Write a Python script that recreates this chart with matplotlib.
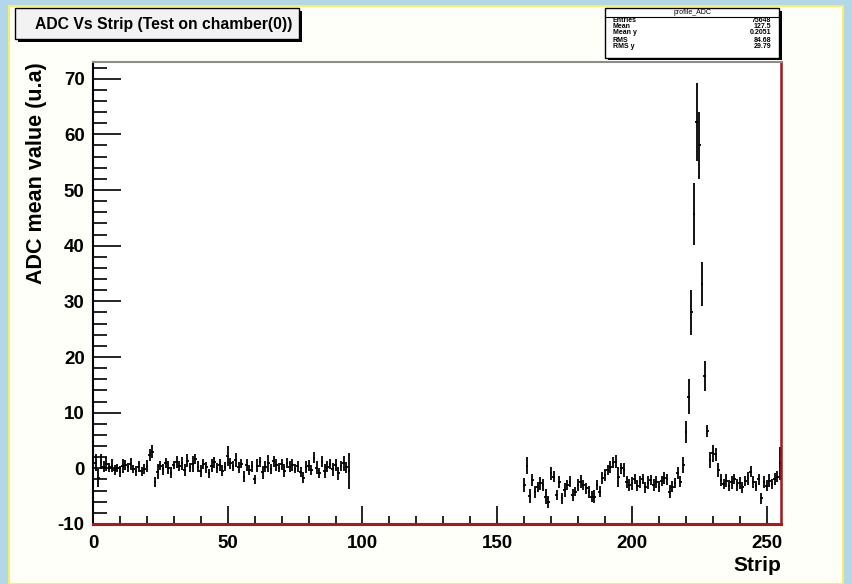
import numpy as np
import matplotlib
matplotlib.use("Agg")
import matplotlib.pyplot as plt
from matplotlib.patches import Rectangle
from matplotlib.ticker import MultipleLocator

plt.rcParams['font.family'] = ['Liberation Sans', 'DejaVu Sans']
plt.rcParams['axes.unicode_minus'] = False

# ---- data ----
left_strips = list(range(0, 96))
left_adc = [-1.5, 1.0, -1.8, 1.2, 0.3, 0.8, 0.2, 0.5, -0.3, 0.1,
            -0.6, 0.4, 0.6, 0.2, 0.8, -0.1, -0.4, 0.3, -0.5, -0.1,
            0.4, 2.4, 3.0, -2.4, -0.6, 0.5, -0.2, 0.9, 0.1, -0.8,
            0.6, 1.2, 0.4, 0.9, -0.3, 1.4, 0.2, 0.8, 1.6, 0.3,
            -0.5, 0.7, 0.2, -0.9, 0.5, 1.1, 0.0, 0.6, -0.4, 0.3,
            2.2, 0.9, 0.4, 1.5, 0.2, 0.8, -1.5, 0.6, -0.3, 0.4,
            -2.0, 0.5, 1.1, -0.7, 0.3, 0.9, -0.2, 1.3, 0.6, 0.1,
            0.7, -0.4, 0.9, 0.3, 0.6, -0.1, 0.4, -0.6, -1.7, 0.2,
            0.5, -0.3, 1.9, 0.1, -0.8, 1.2, -0.5, 0.3, 0.8, -0.2,
            0.6, -0.9, 0.4, 0.9, 0.2, -0.5]
left_err = [2.4, 1.5, 1.6, 1.3, 1.0, 1.2, 0.8, 1.1, 0.9, 0.7,
            1.0, 1.2, 0.9, 0.8, 1.1, 0.7, 0.9, 1.0, 0.8, 0.9,
            1.1, 1.0, 1.2, 0.9, 1.3, 0.8, 1.0, 0.9, 1.2, 1.0,
            0.8, 1.1, 0.9, 1.2, 1.0, 1.1, 0.8, 1.4, 0.9, 1.0,
            1.1, 0.9, 1.0, 0.8, 1.2, 1.0, 0.9, 1.1, 1.0, 0.8,
            1.8, 1.0, 0.9, 1.2, 1.0, 0.8, 1.0, 1.1, 0.9, 1.0,
            0.8, 1.1, 0.9, 1.2, 1.0, 1.5, 0.9, 1.0, 1.1, 0.8,
            1.0, 1.2, 0.9, 1.0, 1.1, 0.8, 1.0, 0.9, 1.0, 1.1,
            1.0, 0.9, 1.0, 1.2, 0.9, 1.0, 1.3, 1.0, 0.9, 1.1,
            1.0, 1.2, 0.9, 1.4, 1.0, 3.2]

right_strips = list(range(160, 256))
right_adc = [-3.0, 0.5, -5.0, -2.1, -4.2, -3.3, -2.7, -3.0, -5.1, -6.0,
             -0.9, -1.5, -4.8, -2.4, -5.4, -3.9, -3.0, -2.4, -4.8, -4.2,
             -3.0, -2.4, -3.0, -3.6, -4.2, -5.1, -5.1, -3.0, -4.2, -1.8,
             -1.2, -0.3, 0.3, 1.0, 1.2, -1.5, 0.0, -0.3, -2.4, -3.0,
             -2.7, -2.0, -3.1, -2.5, -1.9, -3.4, -2.6, -2.1, -3.0, -2.4,
             -3.3, -2.2, -1.8, -2.0, -4.2, -3.3, -2.7, -0.9, -2.4, 0.6,
             6.5, 12.9, 28.0, 45.7, 62.2, 58.0, 33.1, 16.6, 6.7, 1.5,
             2.7, 2.5, -0.3, -2.1, -2.8, -2.2, -3.1, -2.5, -1.9, -3.0,
             -2.6, -3.4, -2.3, -1.8, -0.6, -2.4, -3.2, -2.0, -5.4, -2.5,
             -3.1, -2.2, -2.8, -1.9, -1.5, 0.9]
right_err = [1.3, 1.5, 1.2, 1.0, 1.1, 0.9, 1.2, 1.0, 1.3, 1.1,
             1.2, 1.0, 0.9, 1.1, 1.0, 1.2, 0.9, 1.0, 1.1, 0.8,
             1.0, 1.2, 0.9, 1.0, 1.1, 1.0, 1.2, 0.9, 1.0, 1.1,
             1.0, 0.9, 1.1, 1.0, 1.2, 1.8, 1.0, 1.3, 1.1, 1.0,
             1.2, 0.9, 1.0, 1.1, 0.9, 1.0, 1.2, 0.9, 1.0, 1.1,
             1.0, 0.9, 1.1, 1.0, 1.2, 1.0, 0.9, 1.1, 1.0, 1.5,
             2.0, 3.2, 4.0, 5.5, 7.0, 6.0, 4.0, 2.7, 1.0, 1.5,
             1.5, 1.2, 1.3, 1.0, 0.9, 1.1, 1.0, 1.2, 0.9, 1.0,
             1.1, 1.0, 0.9, 1.2, 1.0, 1.1, 0.9, 1.0, 1.0, 1.1,
             1.0, 1.2, 0.9, 1.1, 1.0, 3.0]

stats_names = ['Entries', 'Mean', 'Mean y', 'RMS', 'RMS y']
stats_values = ['75648', '127.5', '0.2051', '84.68', '29.79']

W, H = 853, 584
def fx(x): return x / W
def fy(y): return 1 - y / H

fig = plt.figure(figsize=(8.53, 5.84), dpi=100)
fig.patch.set_facecolor('#b3d6e8')
# white canvas with yellow edge (screen grab)
fig.add_artist(Rectangle((fx(9), 0), fx(843) - fx(9), fy(6), transform=fig.transFigure,
                         facecolor='#fffffa', edgecolor='#f5f06a', lw=1.5, zorder=0))

ax = fig.add_axes([fx(93), fy(524), fx(781) - fx(93), fy(62) - fy(524)])
ax.set_facecolor('white')

strips = np.array(left_strips + right_strips)
adc = np.array(left_adc + right_adc)
err = np.array(left_err + right_err)
ax.errorbar(strips, adc, yerr=err, xerr=0.5, fmt='none', ecolor='black',
            elinewidth=1.3, capsize=0)

ax.set_xlim(0, 255.3)
ax.set_ylim(-10, 73)
ax.xaxis.set_major_locator(MultipleLocator(50))
ax.xaxis.set_minor_locator(MultipleLocator(10))
ax.yaxis.set_major_locator(MultipleLocator(10))
ax.yaxis.set_minor_locator(MultipleLocator(2))

ax.tick_params(axis='x', which='major', direction='in', length=13, width=1.2, pad=8, labelsize=13.5)
ax.tick_params(axis='x', which='minor', direction='in', length=6, width=1.2)
ax.tick_params(axis='y', which='major', direction='in', length=20, width=1.2, pad=6, labelsize=13.5)
ax.tick_params(axis='y', which='minor', direction='in', length=10, width=1.2)
for lab in ax.get_xticklabels() + ax.get_yticklabels():
    lab.set_fontweight('bold')

ax.spines['top'].set_color('#8c8c8c')
ax.spines['top'].set_linewidth(1.5)
ax.spines['left'].set_color('black')
ax.spines['left'].set_linewidth(1.5)
ax.spines['bottom'].set_color('#b01818')
ax.spines['bottom'].set_linewidth(2.2)
ax.spines['right'].set_color('#a01818')
ax.spines['right'].set_linewidth(1.8)

ax.set_ylabel('ADC mean value (u.a)', loc='top', fontsize=15.5, fontweight='bold')
ax.yaxis.set_label_coords((37 - 93) / 688, 1.0)
ax.yaxis.label.set_va('center')
ax.set_xlabel('Strip', loc='right', fontsize=15, fontweight='bold', labelpad=3)

# title box
fig.add_artist(Rectangle((fx(18), fy(42)), fx(302) - fx(18), fy(11) - fy(42),
                         transform=fig.transFigure, facecolor='black', edgecolor='none', zorder=3))
fig.add_artist(Rectangle((fx(15), fy(39)), fx(299) - fx(15), fy(8) - fy(39),
                         transform=fig.transFigure, facecolor='#f2f2f2', edgecolor='black',
                         lw=1.0, zorder=4))
fig.text(fx(35), fy(24), 'ADC Vs Strip (Test on chamber(0))', fontsize=11.3,
         fontweight='bold', va='center', ha='left', zorder=5)

# stats box
fig.add_artist(Rectangle((fx(608), fy(60)), fx(782) - fx(608), fy(11) - fy(60),
                         transform=fig.transFigure, facecolor='black', edgecolor='none', zorder=3))
fig.add_artist(Rectangle((fx(605), fy(58)), fx(779) - fx(605), fy(8) - fy(58),
                         transform=fig.transFigure, facecolor='white', edgecolor='black',
                         lw=1.0, zorder=4))
fig.add_artist(plt.Line2D([fx(605), fx(779)], [fy(17), fy(17)], transform=fig.transFigure,
                          color='black', lw=0.8, zorder=5))
fig.text(fx(692), fy(12.5), 'profile_ADC', fontsize=5, ha='center', va='center', zorder=6)
row_y = [21, 27, 33, 41, 47]
for name, val, yy in zip(stats_names, stats_values, row_y):
    fig.text(fx(613), fy(yy), name, fontsize=5, fontweight='bold', ha='left', va='center', zorder=6)
    fig.text(fx(771), fy(yy), val, fontsize=5, fontweight='bold', ha='right', va='center', zorder=6)

fig.savefig('out.png', dpi=100, facecolor=fig.get_facecolor())
